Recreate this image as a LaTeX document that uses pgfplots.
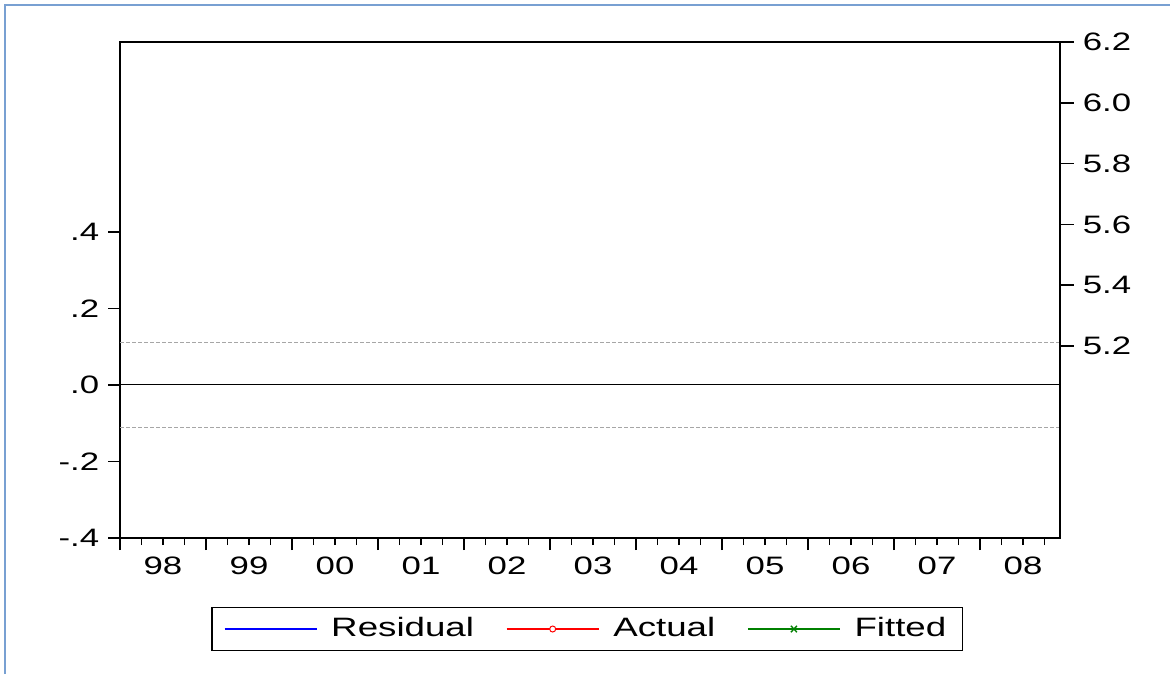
\documentclass[border=0pt]{standalone}
\usepackage{fontspec}
\setmainfont{Liberation Sans}[FakeStretch=1.38]
\usepackage{pgfplots}
\pgfplotsset{compat=1.18}
\begin{document}
\fontsize{12.6}{15}\selectfont
\begin{tikzpicture}
\path[use as bounding box] (0pt,0pt) rectangle (585pt,337pt);
\draw[color={rgb,255:red,120;green,160;blue,210}, line width=0.8pt] (2.5pt,0pt) -- (2.5pt,334.5pt) -- (585pt,334.5pt);
\begin{axis}[
  at={(60pt,68pt)}, anchor=south west, scale only axis,
  width=470pt, height=248pt,
  xmin=1998, xmax=2008.93, ymin=-0.4, ymax=0.896,
  axis line style={line width=1pt},
  tick align=outside, xtick pos=lower, ytick pos=left,
  xtick={1998,...,2008}, xticklabels={},
  minor xtick={1998,1998.25,...,2008.8},
  major tick length=6pt, minor tick length=3.5pt,
  every tick/.style={black, line width=0.8pt},
  ytick={-0.4,-0.2,0,0.2,0.4},
  yticklabels={-.4,-.2,.0,.2,.4},
  extra x ticks={1998.5,1999.5,2000.5,2001.5,2002.5,2003.5,2004.5,2005.5,2006.5,2007.5,2008.5},
  extra x tick labels={98,99,00,01,02,03,04,05,06,07,08},
  extra x tick style={major tick length=0pt, tick label style={yshift=-5pt}},
  tick label style={font=\fontsize{12.6}{15}\selectfont},
  legend style={at={(0.497,-0.1835)}, anchor=center, draw=black, line width=0.6pt,
    font=\fontsize{13.3}{16}\selectfont, legend columns=3,
    inner ysep=3pt, inner xsep=6pt,
    /tikz/every odd column/.append style={column sep=5pt},
    /tikz/every even column/.append style={column sep=14pt}},
]
\addplot[black, line width=0.5pt, forget plot] coordinates {(1998,0) (2008.93,0)};
\addplot[gray!70, line width=0.5pt, dash pattern=on 2pt off 1pt, forget plot] coordinates {(1998,0.112) (2008.93,0.112)};
\addplot[gray!70, line width=0.5pt, dash pattern=on 2pt off 1pt, forget plot] coordinates {(1998,-0.112) (2008.93,-0.112)};
\addlegendimage{legend image code/.code={\draw[blue, line width=0.6pt] (0pt,0pt) -- (46pt,0pt);}}
\addlegendentry{Residual}
\addlegendimage{legend image code/.code={\draw[red, line width=0.6pt] (0pt,0pt) -- (46pt,0pt); \draw[red, fill=white, line width=0.5pt] (23pt,0pt) circle (1.5pt);}}
\addlegendentry{Actual}
\addlegendimage{legend image code/.code={\draw[green!50!black, line width=0.6pt] (0pt,0pt) -- (46pt,0pt); \draw[green!50!black, line width=0.7pt] (21.5pt,-1.6pt) -- (24.5pt,1.6pt) (21.5pt,1.6pt) -- (24.5pt,-1.6pt);}}
\addlegendentry{Fitted}
\end{axis}
\begin{axis}[
  at={(60pt,68pt)}, anchor=south west, scale only axis,
  width=470pt, height=248pt,
  xmin=1998, xmax=2008.93, ymin=4.568, ymax=6.2,
  axis x line=none, axis y line*=right,
  axis line style={line width=1pt},
  tick align=outside,
  major tick length=7pt,
  every tick/.style={black, line width=0.8pt},
  ytick={5.2,5.4,5.6,5.8,6.0,6.2},
  yticklabels={5.2,5.4,5.6,5.8,6.0,6.2},
  tick label style={font=\fontsize{12.6}{15}\selectfont},
]
\end{axis}
\end{tikzpicture}
\end{document}
